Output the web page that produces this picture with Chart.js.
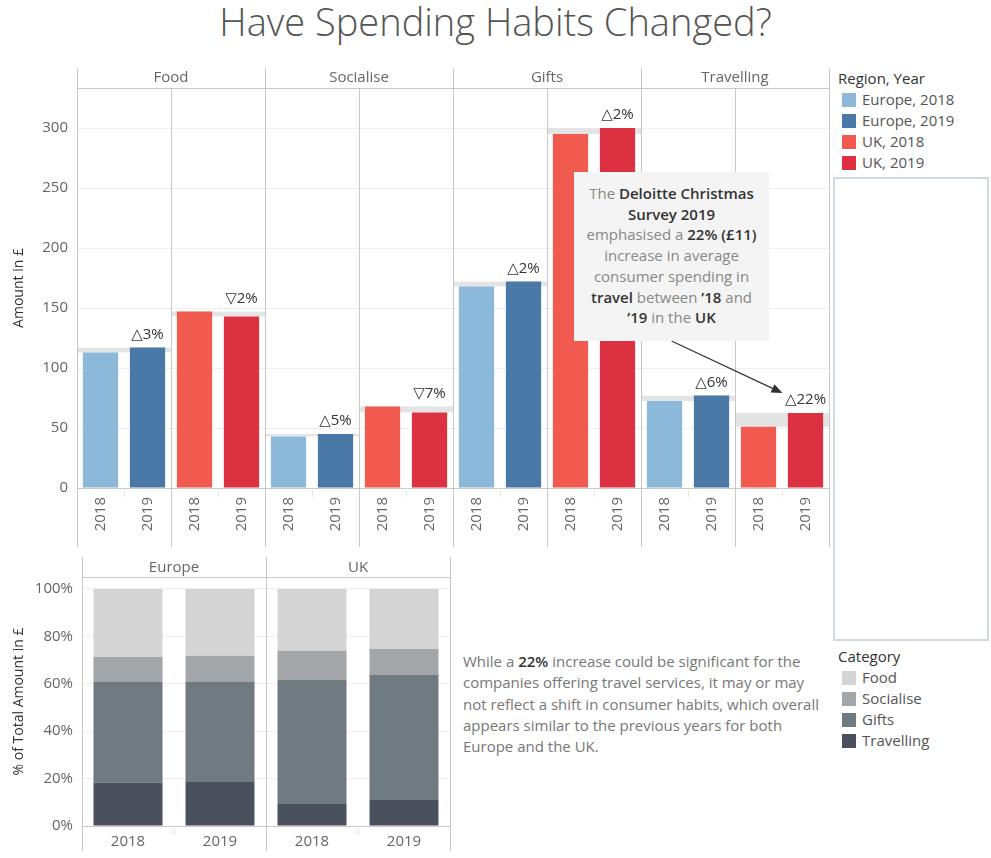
<!DOCTYPE html>
<html>
<head>
<meta charset="utf-8">
<script src="https://cdn.jsdelivr.net/npm/chart.js@4.4.1/dist/chart.umd.min.js"></script>
<style>
  body { margin: 0; width: 991px; height: 858px; position: relative; background: #fff; font-family: "Open Sans", sans-serif; overflow: hidden; }
  #title { position: absolute; left: 0; top: 0; width: 991px; text-align: center; font-size: 38px; font-weight: 300; color: #555; line-height: 42px; }
  .box { position: absolute; }
  .legend { position: absolute; font-size: 15px; color: #555; line-height: 21px; }
  .legend .lt { color: #333; }
  .legend .li { display: flex; align-items: center; padding-left: 4px; }
  .legend .sw { width: 14px; height: 14px; margin-right: 6px; }
  #callout { position: absolute; background: #f4f4f4; text-align: center; font-size: 15px; line-height: 20.7px; color: #888; box-sizing: border-box; padding-top: 11px; white-space: nowrap; }
  #callout b, #note b { color: #333; font-weight: 600; }
  #note { position: absolute; left: 463px; top: 651px; font-size: 15px; line-height: 21.25px; color: #777; white-space: nowrap; }
  #emptyBox { position: absolute; left: 833px; top: 177px; width: 152px; height: 460px; border: 2px solid #d0d9e1; }
</style>
</head>
<body>
<div id="title">Have Spending Habits Changed?</div>
<div class="box" style="left:0;top:60px"><canvas id="amounts" width="830" height="490"></canvas></div>
<div class="box" style="left:0;top:550px"><canvas id="shares" width="455" height="308"></canvas></div>
<div id="callout">The <b>Deloitte Christmas</b><br><b>Survey 2019</b><br>emphasised a <b>22% (£11)</b><br>increase in average<br>consumer spending in<br><b>travel</b> between <b>’18</b> and<br><b>’19</b> in the <b>UK</b></div>
<div id="note">While a <b>22%</b> increase could be significant for the<br>companies offering travel services, it may or may<br>not reflect a shift in consumer habits, which overall<br>appears similar to the previous years for both<br>Europe and the UK.</div>
<div id="emptyBox"></div>
<div class="legend" id="legendRegion" style="left:838px;top:68px"></div>
<div class="legend" id="legendCategory" style="left:838px;top:646px"></div>
<script>
// ---- data ----
const categories = ['Food', 'Socialise', 'Gifts', 'Travelling'];
const regions = ['Europe', 'UK'];
const years = ['2018', '2019'];

// average amount in £ per category
const europe2018 = [113, 43, 168, 72.5];
const europe2019 = [117, 45, 172, 77];
const uk2018 = [147, 68, 295, 51];
const uk2019 = [143, 63, 300, 62.5];

// year-on-year change labels, per category then region
const changeLabels = ['△3%', '▽2%', '△5%', '▽7%', '△2%', '△2%', '△6%', '△22%'];

// % of total amount, columns = Europe 2018, Europe 2019, UK 2018, UK 2019
const shareTravelling = [18.2, 18.6, 9.3, 11.0];
const shareGifts = [42.6, 42.2, 52.4, 52.8];
const shareSocialise = [10.6, 11.0, 12.2, 11.0];
const shareFood = [28.6, 28.2, 26.1, 25.2];

const seriesNames = ['Europe, 2018', 'Europe, 2019', 'UK, 2018', 'UK, 2019'];
const seriesColors = ['#8cb8d9', '#4a78a7', '#f05a4f', '#db3141'];
const categoryColors = { Food: '#d4d4d4', Socialise: '#a2a6a9', Gifts: '#6f7a81', Travelling: '#4a505c' };

const CALLOUT = { left: 574, top: 172, w: 195, h: 169 };
const TOP_OFFSET = 60;
const LINE = '#c8c8c8';
const FONT = '"Open Sans", "DejaVu Sans", sans-serif';

Chart.defaults.animation = false;
Chart.defaults.font.family = FONT;

// ---- html bits ----
const callout = document.getElementById('callout');
Object.assign(callout.style, { left: CALLOUT.left + 'px', top: CALLOUT.top + 'px', width: CALLOUT.w + 'px', height: CALLOUT.h + 'px' });

function buildLegend(id, title, names, colors) {
    const el = document.getElementById(id);
    el.innerHTML = `<div class="lt">${title}</div>` +
        names.map((n, i) => `<div class="li"><span class="sw" style="background:${colors[i]}"></span>${n}</div>`).join('');
}
buildLegend('legendRegion', 'Region, Year', seriesNames, seriesColors);
buildLegend('legendCategory', 'Category', categories, categories.map(c => categoryColors[c]));

// ---- helpers ----
function edge(scale, i) {
    const w = scale.getPixelForValue(1) - scale.getPixelForValue(0);
    return scale.getPixelForValue(i) - w / 2;
}

function vline(ctx, x, y0, y1, color) {
    ctx.strokeStyle = color;
    ctx.lineWidth = 1;
    ctx.beginPath();
    ctx.moveTo(Math.round(x) + 0.5, y0);
    ctx.lineTo(Math.round(x) + 0.5, y1);
    ctx.stroke();
}

function noSidePadding(scale) {
    scale.paddingLeft = 0;
    scale.paddingRight = 0;
}

// ---- top chart: amounts ----
const xLabels = [];
categories.forEach(() => regions.forEach(() => years.forEach(y => xLabels.push(y))));

const seriesValues = [europe2018, europe2019, uk2018, uk2019];
const amountDatasets = seriesValues.map((vals, s) => {
    const data = xLabels.map(() => null);
    vals.forEach((v, c) => { data[c * 4 + s] = v; });
    return {
        label: seriesNames[s],
        data: data,
        backgroundColor: seriesColors[s],
        grouped: false,
        skipNull: true,
        barPercentage: 0.75,
        categoryPercentage: 1
    };
});

const amountPanes = {
    id: 'amountPanes',
    beforeDatasetsDraw(chart) {
        const { ctx, scales: { x, y } } = chart;
        ctx.save();
        ctx.fillStyle = '#e4e4e4';
        categories.forEach((cat, c) => {
            regions.forEach((r, k) => {
                const a = k ? uk2018[c] : europe2018[c];
                const b = k ? uk2019[c] : europe2019[c];
                const p = c * 4 + k * 2;
                const x0 = edge(x, p), x1 = edge(x, p + 2);
                const y0 = y.getPixelForValue(Math.max(a, b));
                const y1 = y.getPixelForValue(Math.min(a, b));
                ctx.fillRect(x0, y0, x1 - x0, y1 - y0);
            });
        });
        ctx.restore();
    },
    afterDraw(chart) {
        const { ctx, chartArea, scales: { x, y } } = chart;
        const bottom = chartArea.bottom + 59;
        ctx.save();
        // pane lines
        for (let k = 0; k <= 8; k++) {
            const px = edge(x, k * 2);
            vline(ctx, px, k % 2 === 0 ? 8 : chartArea.top, bottom, LINE);
        }
        // small dividers between years
        for (let k = 0; k < 8; k++) {
            vline(ctx, edge(x, k * 2 + 1), chartArea.bottom, chartArea.bottom + 9, '#e6e6e6');
        }
        ctx.strokeStyle = LINE;
        ctx.beginPath();
        ctx.moveTo(chartArea.left, chartArea.top + 0.5);
        ctx.lineTo(chartArea.right, chartArea.top + 0.5);
        ctx.stroke();

        // headers
        ctx.font = '15px ' + FONT;
        ctx.fillStyle = '#666';
        ctx.textAlign = 'center';
        ctx.textBaseline = 'middle';
        categories.forEach((cat, c) => {
            ctx.fillText(cat, (edge(x, c * 4) + edge(x, c * 4 + 4)) / 2, 18);
        });

        // change labels
        ctx.font = '15px ' + FONT;
        ctx.fillStyle = '#333';
        categories.forEach((cat, c) => {
            regions.forEach((r, k) => {
                const a = k ? uk2018[c] : europe2018[c];
                const b = k ? uk2019[c] : europe2019[c];
                const px = x.getPixelForValue(c * 4 + k * 2 + 1);
                ctx.fillText(changeLabels[c * 2 + k], px, y.getPixelForValue(Math.max(a, b)) - 13);
            });
        });

        // arrow from callout to UK travel label
        const sx = CALLOUT.left + CALLOUT.w / 2;
        const sy = CALLOUT.top + CALLOUT.h - TOP_OFFSET;
        const ex = x.getPixelForValue(15) - 23;
        const ey = y.getPixelForValue(Math.max(uk2018[3], uk2019[3])) - 20;
        const ang = Math.atan2(ey - sy, ex - sx);
        ctx.strokeStyle = '#333';
        ctx.fillStyle = '#333';
        ctx.lineWidth = 1.2;
        ctx.beginPath();
        ctx.moveTo(sx, sy);
        ctx.lineTo(ex - 8 * Math.cos(ang), ey - 8 * Math.sin(ang));
        ctx.stroke();
        ctx.beginPath();
        ctx.moveTo(ex, ey);
        ctx.lineTo(ex - 11 * Math.cos(ang) + 4.5 * Math.sin(ang), ey - 11 * Math.sin(ang) - 4.5 * Math.cos(ang));
        ctx.lineTo(ex - 11 * Math.cos(ang) - 4.5 * Math.sin(ang), ey - 11 * Math.sin(ang) + 4.5 * Math.cos(ang));
        ctx.closePath();
        ctx.fill();
        ctx.restore();
    }
};

new Chart(document.getElementById('amounts'), {
    type: 'bar',
    data: { labels: xLabels, datasets: amountDatasets },
    options: {
        responsive: false,
        layout: { padding: { top: 28, right: 1, left: 0, bottom: 0 } },
        plugins: { legend: { display: false }, tooltip: { enabled: false } },
        scales: {
            x: {
                grid: { display: false, drawTicks: false },
                border: { display: true, color: LINE },
                ticks: { autoSkip: false, maxRotation: 90, minRotation: 90, padding: 9, color: '#666', font: { size: 15 } },
                afterFit: (scale) => { scale.height = 62; noSidePadding(scale); }
            },
            y: {
                min: 0,
                max: 400 / 1.2,
                grid: { color: (c) => c.tick.value === 0 ? 'transparent' : '#efefef', drawTicks: false },
                border: { display: false },
                ticks: { stepSize: 50, includeBounds: false, padding: 9, color: '#666', font: { size: 15 } },
                title: { display: true, text: 'Amount in £', color: '#333', font: { size: 14 }, padding: { top: 11, bottom: 0 } },
                afterFit: (scale) => { scale.width = 77; }
            }
        }
    },
    plugins: [amountPanes]
});

// ---- bottom chart: shares ----
const shareLabels = [];
regions.forEach(() => years.forEach(y => shareLabels.push(y)));

const shareSeries = { Travelling: shareTravelling, Gifts: shareGifts, Socialise: shareSocialise, Food: shareFood };
const shareDatasets = ['Travelling', 'Gifts', 'Socialise', 'Food'].map(cat => ({
    label: cat,
    data: shareSeries[cat],
    backgroundColor: categoryColors[cat],
    barPercentage: 0.75,
    categoryPercentage: 1
}));

const sharePanes = {
    id: 'sharePanes',
    afterDraw(chart) {
        const { ctx, chartArea, scales: { x } } = chart;
        ctx.save();
        for (let k = 0; k <= 2; k++) {
            vline(ctx, edge(x, k * 2), 7, chartArea.bottom + 25, LINE);
        }
        for (let k = 0; k < 2; k++) {
            vline(ctx, edge(x, k * 2 + 1), chartArea.bottom, chartArea.bottom + 9, '#e6e6e6');
        }
        ctx.strokeStyle = LINE;
        ctx.beginPath();
        ctx.moveTo(chartArea.left, chartArea.top + 0.5);
        ctx.lineTo(chartArea.right, chartArea.top + 0.5);
        ctx.stroke();
        ctx.font = '15px ' + FONT;
        ctx.fillStyle = '#666';
        ctx.textAlign = 'center';
        ctx.textBaseline = 'middle';
        regions.forEach((r, k) => {
            ctx.fillText(r, (edge(x, k * 2) + edge(x, k * 2 + 2)) / 2, 18);
        });
        ctx.restore();
    }
};

new Chart(document.getElementById('shares'), {
    type: 'bar',
    data: { labels: shareLabels, datasets: shareDatasets },
    options: {
        responsive: false,
        layout: { padding: { top: 27, right: 5, left: 0, bottom: 0 } },
        plugins: { legend: { display: false }, tooltip: { enabled: false } },
        scales: {
            x: {
                stacked: true,
                grid: { display: false, drawTicks: false },
                border: { display: true, color: LINE },
                ticks: { autoSkip: false, maxRotation: 0, padding: 7, color: '#666', font: { size: 15 } },
                afterFit: (scale) => { scale.height = 32; noSidePadding(scale); }
            },
            y: {
                stacked: true,
                min: 0,
                max: 249 / 2.37,
                grid: { color: (c) => c.tick.value === 0 ? 'transparent' : '#efefef', drawTicks: false },
                border: { display: false },
                ticks: { stepSize: 20, includeBounds: false, padding: 9, color: '#666', font: { size: 15 }, callback: (v) => v + '%' },
                title: { display: true, text: '% of Total Amount in £', color: '#333', font: { size: 14 }, padding: { top: 11, bottom: 0 } },
                afterFit: (scale) => { scale.width = 82; }
            }
        }
    },
    plugins: [sharePanes]
});
</script>
</body>
</html>
